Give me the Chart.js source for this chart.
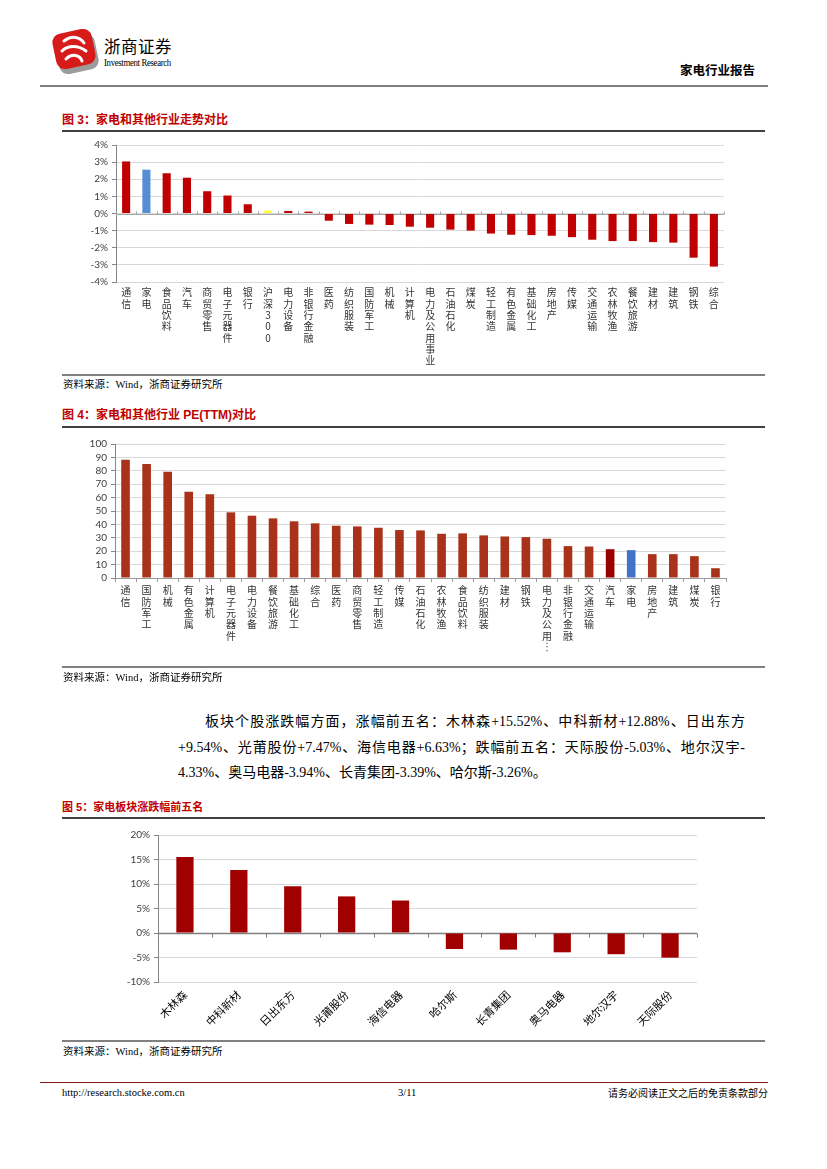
<!DOCTYPE html>
<html><head><meta charset="utf-8">
<script src="https://cdn.jsdelivr.net/npm/chart.js@4.4.1/dist/chart.umd.min.js"></script>
<style>
body{margin:0;background:#fff;width:827px;height:1169px;position:relative;overflow:hidden;font-family:"Liberation Serif","Noto Sans CJK SC",serif;color:#000;}
.t{position:absolute;white-space:nowrap;}
.title{position:absolute;left:62px;font-family:"Liberation Sans","Noto Sans CJK SC",sans-serif;font-weight:bold;color:#C00000;font-size:12px;line-height:14px;white-space:nowrap;}
.hl{position:absolute;left:62px;width:703px;}
.src{position:absolute;left:63px;font-size:10.5px;line-height:12px;white-space:nowrap;}
.box{position:absolute;left:62px;width:703px;}
.para{position:absolute;font-size:14px;line-height:18px;white-space:nowrap;}
.jus{text-align:justify;text-align-last:justify;white-space:normal;}
</style></head>
<body>
<!-- header -->
<svg class="t" style="left:50px;top:27px" width="52" height="48" viewBox="0 0 52 48">
  <rect x="7" y="9" width="40" height="36" rx="9" fill="#9c9c9c" transform="rotate(-12 27 27)"/>
  <rect x="4" y="4" width="40" height="36" rx="9" fill="#d71a1a" transform="rotate(-12 24 22)"/>
  <path d="M14 14 C22 8, 30 10, 34 16 M12 24 C18 18, 28 18, 36 24 M16 32 C22 26, 30 28, 32 34" fill="none" stroke="#fff" stroke-width="3" stroke-linecap="round"/>
</svg>
<div class="t" style="left:104px;top:36px;font-family:'Noto Sans CJK SC';font-size:16.5px;line-height:20px;letter-spacing:0.5px;">浙商证券</div>
<div class="t" style="left:104px;top:57px;font-family:'Liberation Serif';font-size:10px;line-height:12px;letter-spacing:-0.4px;transform:scaleX(0.88);transform-origin:left;">Investment Research</div>
<div class="t" style="left:680px;top:62px;font-family:'Noto Sans CJK SC';font-weight:bold;font-size:12.5px;line-height:16px;">家电行业报告</div>
<div class="t" style="left:40px;top:85px;width:728px;height:2px;background:#808080;"></div>

<!-- figure 3 -->
<div class="title" style="top:113px;">图 3：家电和其他行业走势对比</div>
<div class="hl" style="top:130px;height:2px;background:#404040;"></div>
<div class="box" style="top:135px;height:240px;"><canvas id="c1" width="703" height="240"></canvas></div>
<div class="hl" style="top:374px;height:2px;background:#808080;"></div>
<div class="src" style="top:379px;">资料来源：Wind，浙商证券研究所</div>

<!-- figure 4 -->
<div class="title" style="top:408px;">图 4：家电和其他行业 PE(TTM)对比</div>
<div class="hl" style="top:426px;height:2px;background:#404040;"></div>
<div class="box" style="top:432px;height:235px;"><canvas id="c2" width="703" height="235"></canvas></div>
<div class="hl" style="top:666px;height:2px;background:#808080;"></div>
<div class="src" style="top:672px;">资料来源：Wind，浙商证券研究所</div>

<!-- paragraph -->
<div class="para jus" style="left:205px;top:713px;width:540px;">板块个股涨跌幅方面，涨幅前五名：木林森+15.52%、中科新材+12.88%、日出东方</div>
<div class="para jus" style="left:178px;top:739px;width:567px;">+9.54%、光莆股份+7.47%、海信电器+6.63%；跌幅前五名：天际股份-5.03%、地尔汉宇-</div>
<div class="para" style="left:178px;top:764px;">4.33%、奥马电器-3.94%、长青集团-3.39%、哈尔斯-3.26%。</div>

<!-- figure 5 -->
<div class="title" style="top:800px;font-size:11px;">图 5：家电板块涨跌幅前五名</div>
<div class="hl" style="top:817px;height:2px;background:#404040;"></div>
<div class="box" style="top:822px;height:218px;"><canvas id="c3" width="703" height="218"></canvas></div>
<div class="hl" style="top:1040px;height:2px;background:#808080;"></div>
<div class="src" style="top:1046px;">资料来源：Wind，浙商证券研究所</div>

<!-- footer -->
<div class="t" style="left:40px;top:1082px;width:728px;height:1px;background:#8B1A1A;"></div>
<div class="t" style="left:62px;top:1087px;font-size:10.5px;line-height:12px;">http://research.stocke.com.cn</div>
<div class="t" style="left:398px;top:1087px;font-size:10.5px;line-height:12px;">3/11</div>
<div class="t" style="right:59px;top:1086px;font-family:'Noto Sans CJK SC';font-size:10px;line-height:13px;">请务必阅读正文之后的免责条款部分</div>

<script>
// ---------- data ----------
const industries1 = ['通信','家电','食品饮料','汽车','商贸零售','电子元器件','银行','沪深300','电力设备','非银行金融','医药','纺织服装','国防军工','机械','计算机','电力及公用事业','石油石化','煤炭','轻工制造','有色金属','基础化工','房地产','传媒','交通运输','农林牧渔','餐饮旅游','建材','建筑','钢铁','综合'];
const change1 = [3.04,2.56,2.35,2.09,1.30,1.05,0.54,0.17,0.15,0.11,-0.42,-0.61,-0.65,-0.67,-0.77,-0.83,-0.94,-1.00,-1.17,-1.24,-1.26,-1.30,-1.38,-1.53,-1.61,-1.61,-1.67,-1.70,-2.58,-3.10];

const industries2 = ['通信','国防军工','机械','有色金属','计算机','电子元器件','电力设备','餐饮旅游','基础化工','综合','医药','商贸零售','轻工制造','传媒','石油石化','农林牧渔','食品饮料','纺织服装','建材','钢铁','电力及公用…','非银行金融','交通运输','汽车','家电','房地产','建筑','煤炭','银行'];
const pe2 = [88.3,85.0,79.3,64.3,62.5,49.0,46.5,44.5,42.3,40.8,39.0,38.5,37.5,35.8,35.5,33.0,33.3,31.8,31.0,30.5,29.3,23.8,23.5,21.5,20.8,17.8,17.8,16.3,7.3];

const stocks3 = ['木林森','中科新材','日出东方','光莆股份','海信电器','哈尔斯','长青集团','奥马电器','地尔汉宇','天际股份'];
const change3 = [15.52,12.88,9.54,7.47,6.63,-3.26,-3.39,-3.94,-4.33,-5.03];

const yTicks1 = [-4,4,1];   // min, max, step (%)
const yTicks2 = [0,100,10];
const yTicks3 = [-10,20,5];

// ---------- helpers ----------
const vert = s => Array.from(s).map(c => c === '…' ? '︙' : c);

const zeroAxis = {
  id: 'zeroAxis',
  beforeDatasetsDraw(chart, args, o) {
    const {ctx, chartArea: a, scales: {x, y}} = chart;
    const y0 = Math.round(y.getPixelForValue(0)) + 0.5;
    ctx.save();
    ctx.strokeStyle = o.color;
    ctx.lineWidth = o.width;
    ctx.beginPath(); ctx.moveTo(a.left, y0); ctx.lineTo(a.right, y0); ctx.stroke();
    const n = x.ticks.length, w = (a.right - a.left) / n;
    ctx.lineWidth = 1;
    ctx.beginPath();
    for (let i = 0; i <= n; i++) {
      const px = Math.round(a.left + i * w) + 0.5;
      ctx.moveTo(px, y0); ctx.lineTo(px, y0 + o.tick);
    }
    ctx.stroke();
    ctx.restore();
  }
};

const yFont = {family: 'Lato, "Liberation Sans", sans-serif', size: 10};
const xFontV = {family: '"Noto Sans CJK SC"', size: 10, lineHeight: 1.13};

function yAxis(t, w, fmt) {
  return {
    min: t[0], max: t[1],
    ticks: {stepSize: t[2], autoSkip: false, callback: fmt, font: yFont, color: '#404040', padding: 4},
    grid: {color: '#D9D9D9', tickColor: '#868686', tickLength: 4, lineWidth: 1},
    border: {color: '#868686', width: 1},
    afterFit(s) { s.width = w; }
  };
}

Chart.defaults.animation = false;

// ---------- chart 1 ----------
new Chart(document.getElementById('c1'), {
  type: 'bar',
  data: {
    labels: industries1.map(vert),
    datasets: [{
      data: change1,
      backgroundColor: industries1.map(n => n === '家电' ? '#558ED5' : n === '沪深300' ? '#FFFF33' : '#C00000'),
      barPercentage: 0.4, categoryPercentage: 1
    }]
  },
  options: {
    responsive: false, devicePixelRatio: 1,
    layout: {padding: {top: 8, right: 41, left: 0, bottom: 0}},
    plugins: {legend: {display: false}, tooltip: {enabled: false},
      zeroAxis: {color: '#A6A6A6', width: 1, tick: -3}},
    scales: {
      x: {
        ticks: {autoSkip: false, maxRotation: 0, minRotation: 0, font: xFontV, color: '#333', padding: 5},
        grid: {display: false, drawTicks: false}, border: {display: false},
        afterFit(s) { s.height = 93; }
      },
      y: yAxis(yTicks1, 54, v => v + '%')
    }
  },
  plugins: [zeroAxis]
});

// ---------- chart 2 ----------
new Chart(document.getElementById('c2'), {
  type: 'bar',
  data: {
    labels: industries2.map(vert),
    datasets: [{
      data: pe2,
      backgroundColor: industries2.map(n => n === '家电' ? '#4472C4' : n === '汽车' ? '#990000' : '#A9331A'),
      barPercentage: 0.41, categoryPercentage: 1
    }]
  },
  options: {
    responsive: false, devicePixelRatio: 1,
    layout: {padding: {top: 12, right: 39, left: 0, bottom: 0}},
    plugins: {legend: {display: false}, tooltip: {enabled: false}},
    scales: {
      x: {
        ticks: {autoSkip: false, maxRotation: 0, minRotation: 0, font: xFontV, color: '#333', padding: 3},
        grid: {offset: true, drawOnChartArea: false, drawTicks: true, tickLength: 4, tickColor: '#9A9A9A'},
        border: {color: '#9A9A9A'},
        afterFit(s) { s.height = 89; }
      },
      y: yAxis(yTicks2, 53, v => v)
    }
  }
});

// ---------- chart 3 ----------
new Chart(document.getElementById('c3'), {
  type: 'bar',
  data: {
    labels: stocks3,
    datasets: [{
      data: change3,
      backgroundColor: '#A00000',
      barPercentage: 0.32, categoryPercentage: 1
    }]
  },
  options: {
    responsive: false, devicePixelRatio: 1,
    layout: {padding: {top: 13, right: 68, left: 0, bottom: 0}},
    plugins: {legend: {display: false}, tooltip: {enabled: false},
      zeroAxis: {color: '#7F7F7F', width: 1.5, tick: 4}},
    scales: {
      x: {
        ticks: {autoSkip: false, maxRotation: 45, minRotation: 45, font: {family: '"Noto Sans CJK SC"', size: 11}, color: '#000', padding: 6},
        grid: {display: false, drawTicks: false}, border: {display: false},
        afterFit(s) { s.height = 58; }
      },
      y: yAxis(yTicks3, 96, v => v + '%')
    }
  },
  plugins: [zeroAxis]
});
</script>
</body></html>
